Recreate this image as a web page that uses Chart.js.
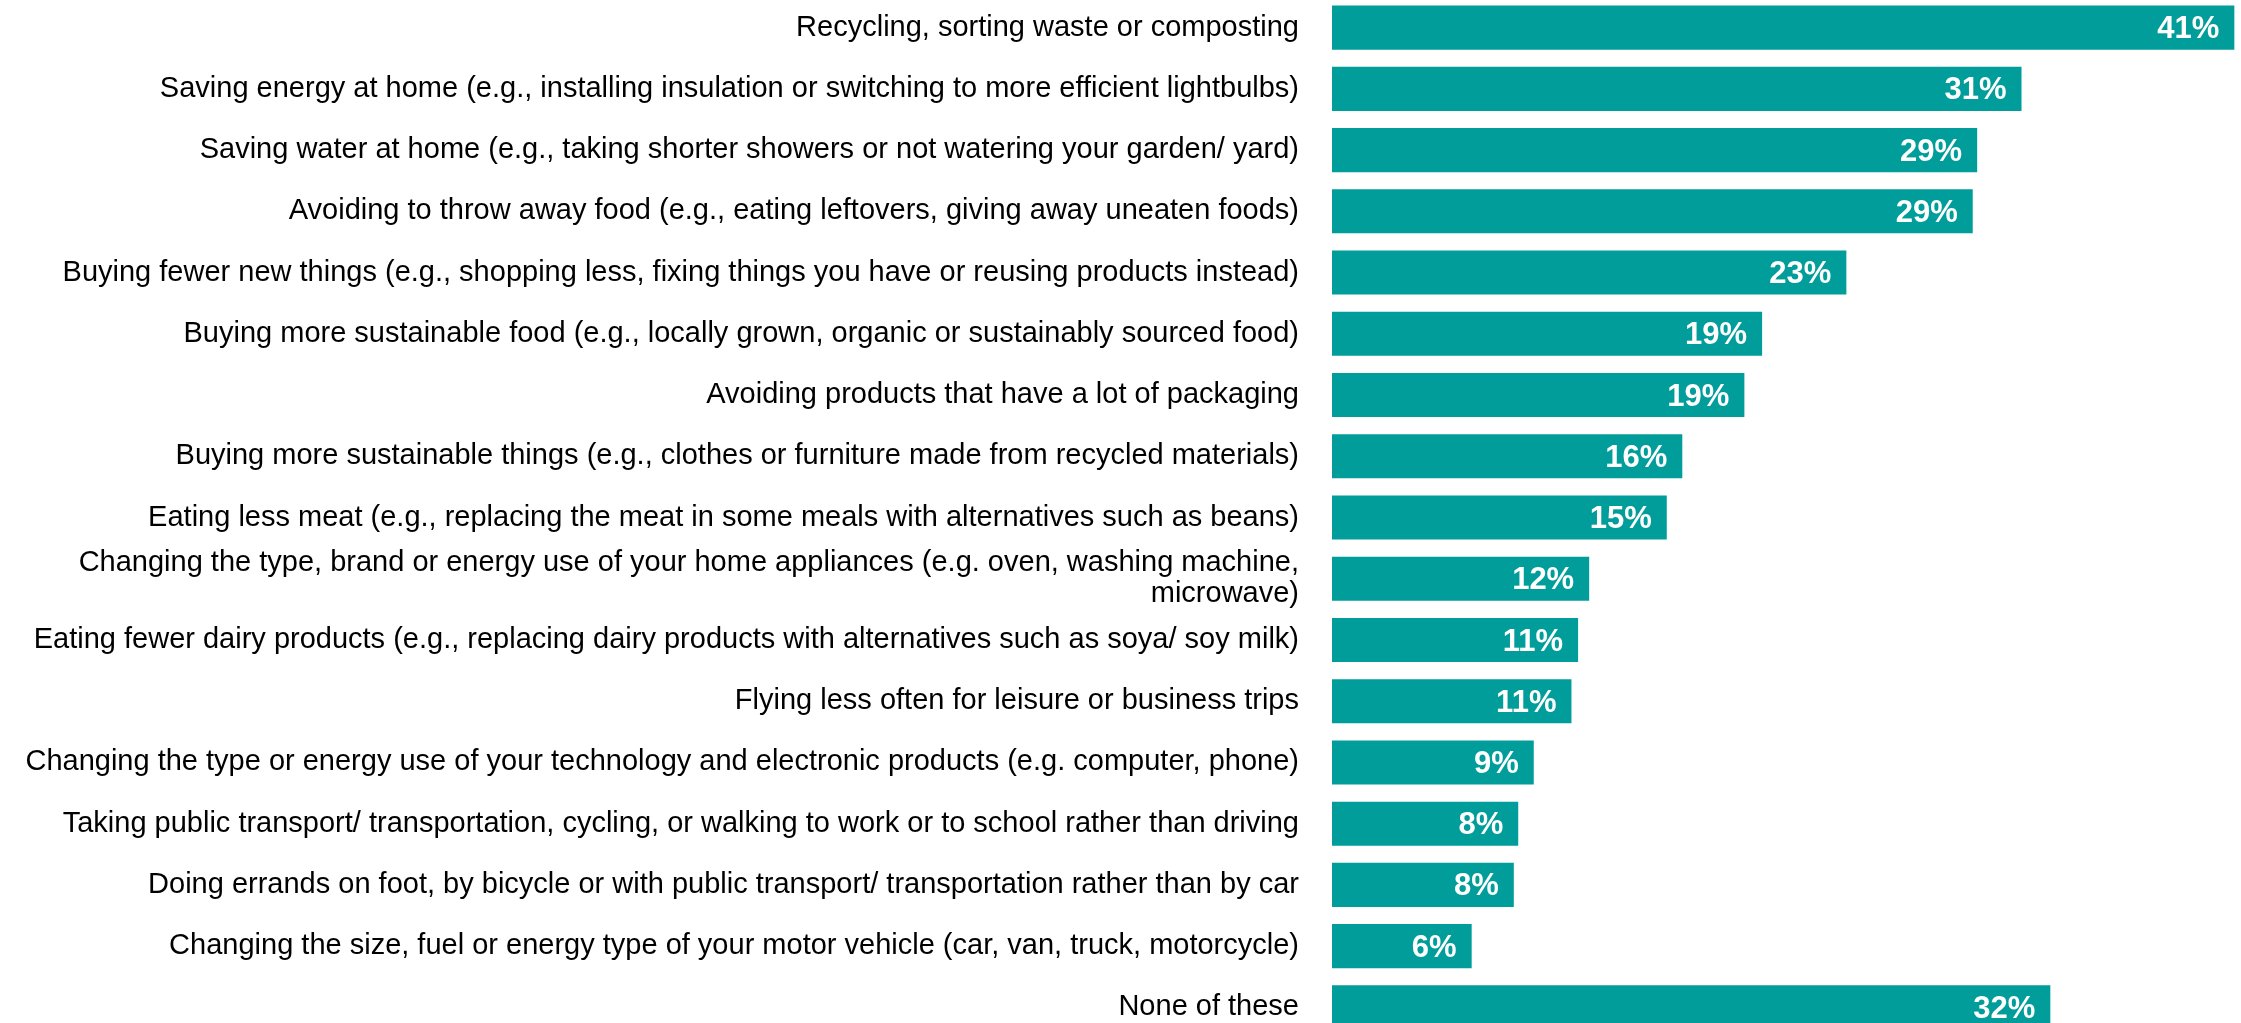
<!DOCTYPE html>
<html>
<head>
<meta charset="utf-8">
<script src="https://cdn.jsdelivr.net/npm/chart.js@4"></script>
<style>
  html, body { margin: 0; padding: 0; background: #fff; overflow: hidden; }
  #wrap { position: absolute; left: 0; top: -3px; width: 2241px; height: 1041px; }
</style>
</head>
<body>
<div id="wrap"><canvas id="chart" width="2241" height="1041"></canvas></div>
<script>
// categories (multi-line one as array)
const categories = [
  "Recycling, sorting waste or composting",
  "Saving energy at home (e.g., installing insulation or switching to more efficient lightbulbs)",
  "Saving water at home (e.g., taking shorter showers or not watering your garden/ yard)",
  "Avoiding to throw away food (e.g., eating leftovers, giving away uneaten foods)",
  "Buying fewer new things (e.g., shopping less, fixing things you have or reusing products instead)",
  "Buying more sustainable food (e.g., locally grown, organic or sustainably sourced food)",
  "Avoiding products that have a lot of packaging",
  "Buying more sustainable things (e.g., clothes or furniture made from recycled materials)",
  "Eating less meat (e.g., replacing the meat in some meals with alternatives such as beans)",
  ["Changing the type, brand or energy use of your home appliances (e.g. oven, washing machine,", "microwave)"],
  "Eating fewer dairy products (e.g., replacing dairy products with alternatives such as soya/ soy milk)",
  "Flying less often for leisure or business trips",
  "Changing the type or energy use of your technology and electronic products (e.g. computer, phone)",
  "Taking public transport/ transportation, cycling, or walking to work or to school rather than driving",
  "Doing errands on foot, by bicycle or with public transport/ transportation rather than by car",
  "Changing the size, fuel or energy type of your motor vehicle (car, van, truck, motorcycle)",
  "None of these"
];

// percentages
const values = [40.7, 31.1, 29.1, 28.9, 23.2, 19.4, 18.6, 15.8, 15.1, 11.6, 11.1, 10.8, 9.1, 8.4, 8.2, 6.3, 32.4];

const barColor = "#009d9a";
const fontFamily = "'Liberation Sans', Arial, sans-serif";

// white bold % labels at the end of each bar
const valueLabels = {
  id: "valueLabels",
  afterDatasetsDraw(chart) {
    const ctx = chart.ctx;
    const meta = chart.getDatasetMeta(0);
    ctx.save();
    ctx.fillStyle = "#ffffff";
    ctx.font = "bold 31px " + fontFamily;
    ctx.textAlign = "right";
    ctx.textBaseline = "middle";
    meta.data.forEach(function (bar, i) {
      ctx.fillText(Math.round(values[i]) + "%", bar.x - 15, bar.y + 2);
    });
    ctx.restore();
  }
};

new Chart(document.getElementById("chart"), {
  type: "bar",
  data: {
    labels: categories,
    datasets: [{
      data: values,
      backgroundColor: barColor,
      borderWidth: 0,
      categoryPercentage: 0.72,
      barPercentage: 1.0
    }]
  },
  options: {
    indexAxis: "y",
    responsive: false,
    animation: false,
    devicePixelRatio: 1,
    layout: { padding: 0 },
    plugins: {
      legend: { display: false },
      tooltip: { enabled: false }
    },
    scales: {
      x: {
        display: false,
        min: 0,
        max: 41
      },
      y: {
        grid: { display: false, drawTicks: false },
        border: { display: false },
        ticks: {
          color: "#000000",
          padding: 33,
          autoSkip: false,
          font: { family: fontFamily, size: 29, lineHeight: 1.08 }
        },
        afterFit(scale) {
          scale.width = 1332;
          scale.paddingTop = 0;
          scale.paddingBottom = 0;
        }
      }
    }
  },
  plugins: [valueLabels]
});
</script>
</body>
</html>
